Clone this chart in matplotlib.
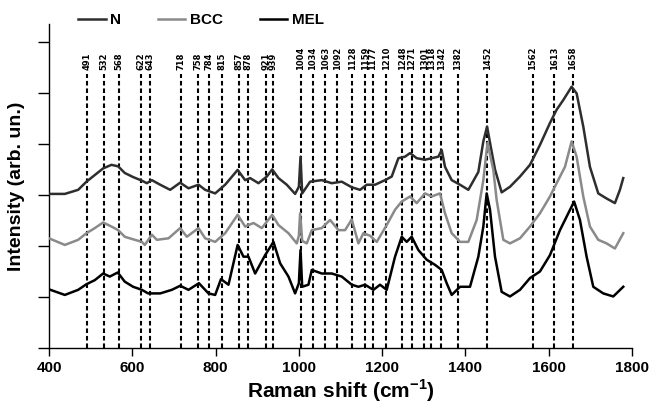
#!/usr/bin/env python3

import matplotlib
matplotlib.use('Agg')
import matplotlib.pyplot as plt
import numpy as np

plt.rcParams['font.family'] = ['Liberation Sans', 'DejaVu Sans']
plt.rcParams['font.weight'] = 'bold'
plt.rcParams['mathtext.fontset'] = 'custom'
plt.rcParams['mathtext.rm'] = 'Liberation Sans:bold'
plt.rcParams['mathtext.bf'] = 'Liberation Sans:bold'

# peak positions (cm-1)
peaks = [491, 532, 568, 622, 643, 718, 758, 784, 815, 857, 878, 921, 939,
         1004, 1034, 1063, 1092, 1128, 1159, 1177, 1210, 1248, 1271, 1301,
         1318, 1342, 1382, 1452, 1562, 1613, 1658]

# N spectrum (offset)
n_x = [400, 438, 470, 490, 510, 530, 550, 566, 582, 602, 623, 635, 647, 667, 691,
       715, 735, 759, 775, 799, 823, 853, 871, 883, 903, 923, 936, 951, 971, 991,
       1000, 1004, 1008, 1027, 1055, 1079, 1103, 1127, 1147, 1163, 1183, 1207, 1223,
       1239, 1255, 1267, 1283, 1303, 1319, 1335, 1343, 1351, 1367, 1387, 1407, 1418,
       1431, 1443, 1452, 1460, 1471, 1487, 1507, 1531, 1555, 1579, 1603, 1619, 1635,
       1655, 1667, 1683, 1699, 1719, 1739, 1759, 1771, 1779]
n_y = [3.02, 3.02, 3.10, 3.26, 3.39, 3.52, 3.59, 3.56, 3.43, 3.35, 3.28, 3.23, 3.29, 3.20, 3.10,
       3.24, 3.13, 3.20, 3.10, 3.03, 3.20, 3.49, 3.29, 3.33, 3.23, 3.36, 3.50, 3.33, 3.20, 3.02,
       3.16, 3.75, 3.03, 3.26, 3.29, 3.23, 3.26, 3.15, 3.10, 3.20, 3.20, 3.29, 3.36,
       3.72, 3.75, 3.82, 3.72, 3.69, 3.72, 3.75, 3.88, 3.55, 3.29, 3.20, 3.10, 3.26,
       3.45, 4.05, 4.34, 3.98, 3.50, 3.05, 3.16, 3.36, 3.59, 3.98, 4.41, 4.67, 4.86,
       5.12, 4.99, 4.34, 3.55, 3.03, 2.93, 2.84, 3.10, 3.33]

# BCC spectrum
bcc_x = [400, 438, 470, 490, 510, 530, 550, 566, 582, 602, 623, 630, 647, 659, 687,
         715, 731, 759, 775, 799, 823, 853, 871, 891, 911, 936, 951, 975, 995, 1000,
         1003, 1008, 1019, 1031, 1055, 1075, 1095, 1111, 1127, 1143, 1155, 1171, 1187,
         1211, 1231, 1247, 1267, 1283, 1303, 1319, 1339, 1351, 1367, 1387, 1407, 1427,
         1443, 1453, 1467, 1475, 1491, 1507, 1531, 1555, 1579, 1603, 1619, 1639, 1655,
         1667, 1683, 1699, 1719, 1739, 1759, 1779]
bcc_y = [2.15, 2.02, 2.12, 2.25, 2.35, 2.46, 2.38, 2.31, 2.18, 2.13, 2.08, 2.02, 2.22, 2.12, 2.15,
         2.35, 2.18, 2.35, 2.15, 2.08, 2.25, 2.61, 2.38, 2.45, 2.35, 2.61, 2.41, 2.25, 2.05, 2.20,
         2.64, 2.10, 2.05, 2.31, 2.35, 2.51, 2.31, 2.31, 2.52, 2.05, 2.25, 2.20, 2.08,
         2.41, 2.71, 2.87, 2.97, 2.84, 3.03, 2.97, 3.03, 2.64, 2.25, 2.08, 2.08, 2.51,
         3.29, 4.02, 3.49, 2.90, 2.12, 2.05, 2.15, 2.38, 2.64, 2.97, 3.23, 3.55, 4.05,
         3.75, 2.97, 2.38, 2.12, 2.05, 1.95, 2.25]

# MEL spectrum
mel_x = [400, 438, 470, 490, 510, 530, 546, 565, 582, 602, 623, 638, 667, 695, 715,
         735, 760, 783, 799, 813, 831, 853, 867, 879, 895, 919, 939, 955, 975, 991,
         1000, 1004, 1008, 1023, 1031, 1055, 1079, 1103, 1127, 1143, 1159, 1179, 1195,
         1211, 1231, 1247, 1259, 1271, 1287, 1307, 1327, 1343, 1355, 1367, 1387, 1411,
         1431, 1443, 1451, 1459, 1471, 1487, 1507, 1531, 1555, 1579, 1603, 1627, 1647,
         1661, 1675, 1691, 1707, 1731, 1755, 1779]
mel_y = [1.15, 1.04, 1.14, 1.25, 1.33, 1.46, 1.40, 1.48, 1.30, 1.20, 1.14, 1.07, 1.07, 1.14, 1.22,
         1.14, 1.27, 1.07, 1.04, 1.35, 1.24, 2.02, 1.79, 1.79, 1.46, 1.82, 2.08, 1.66, 1.40, 1.07,
         1.27, 1.92, 1.20, 1.24, 1.53, 1.46, 1.46, 1.40, 1.24, 1.20, 1.24, 1.14, 1.24,
         1.14, 1.79, 2.18, 2.08, 2.18, 1.92, 1.73, 1.63, 1.53, 1.27, 1.04, 1.20, 1.20,
         1.79, 2.38, 3.03, 2.71, 1.79, 1.10, 1.01, 1.14, 1.37, 1.50, 1.82, 2.31, 2.64,
         2.87, 2.51, 1.79, 1.20, 1.07, 1.01, 1.20]

fig = plt.figure(figsize=(6.5, 4.03), dpi=100)
ax = fig.add_axes([49 / 650, 55 / 403, 583 / 650, 324 / 403])

# dashed peak markers with labels
for p in peaks:
    ax.plot([p, p], [0, 5.37], color='black', linewidth=1.5,
            linestyle=(0, (2.2, 1.4)), zorder=1)
    ax.text(p, 5.45, str(p), rotation=90, ha='center', va='bottom',
            fontsize=6, fontweight='bold', family='DejaVu Sans')

ax.plot(n_x, n_y, color='#2e2e2e', linewidth=1.8, label='N', zorder=3)
ax.plot(bcc_x, bcc_y, color='#8a8a8a', linewidth=1.8, label='BCC', zorder=3)
ax.plot(mel_x, mel_y, color='black', linewidth=1.8, label='MEL', zorder=3)

ax.set_xlim(400, 1800)
ax.set_ylim(0, 6.35)
ax.set_xticks(np.arange(400, 1801, 200))
ax.set_yticks(np.arange(0, 7, 1))
ax.set_yticklabels([])
ax.tick_params(axis='both', direction='out', length=6, width=1, labelsize=11, pad=3)
ax.tick_params(axis='y', length=8)
for lbl in ax.get_xticklabels():
    lbl.set_fontweight('bold')

ax.spines['top'].set_visible(False)
ax.spines['right'].set_visible(False)
ax.spines['left'].set_linewidth(1)
ax.spines['bottom'].set_linewidth(1)

ax.set_xlabel(r'Raman shift (cm$^{-1}$)', fontsize=15, fontweight='bold', labelpad=2)
ax.set_ylabel('Intensity (arb. un.)', fontsize=14, fontweight='bold', labelpad=6)

fig.legend(loc='center left', bbox_to_anchor=(78 / 650, 1 - 20 / 403), ncol=3,
           frameon=False, prop={'size': 11, 'weight': 'bold'}, handlelength=1.8,
           handletextpad=0.3, columnspacing=2.4, borderpad=0, borderaxespad=0)

plt.savefig('out.png', dpi=100)
